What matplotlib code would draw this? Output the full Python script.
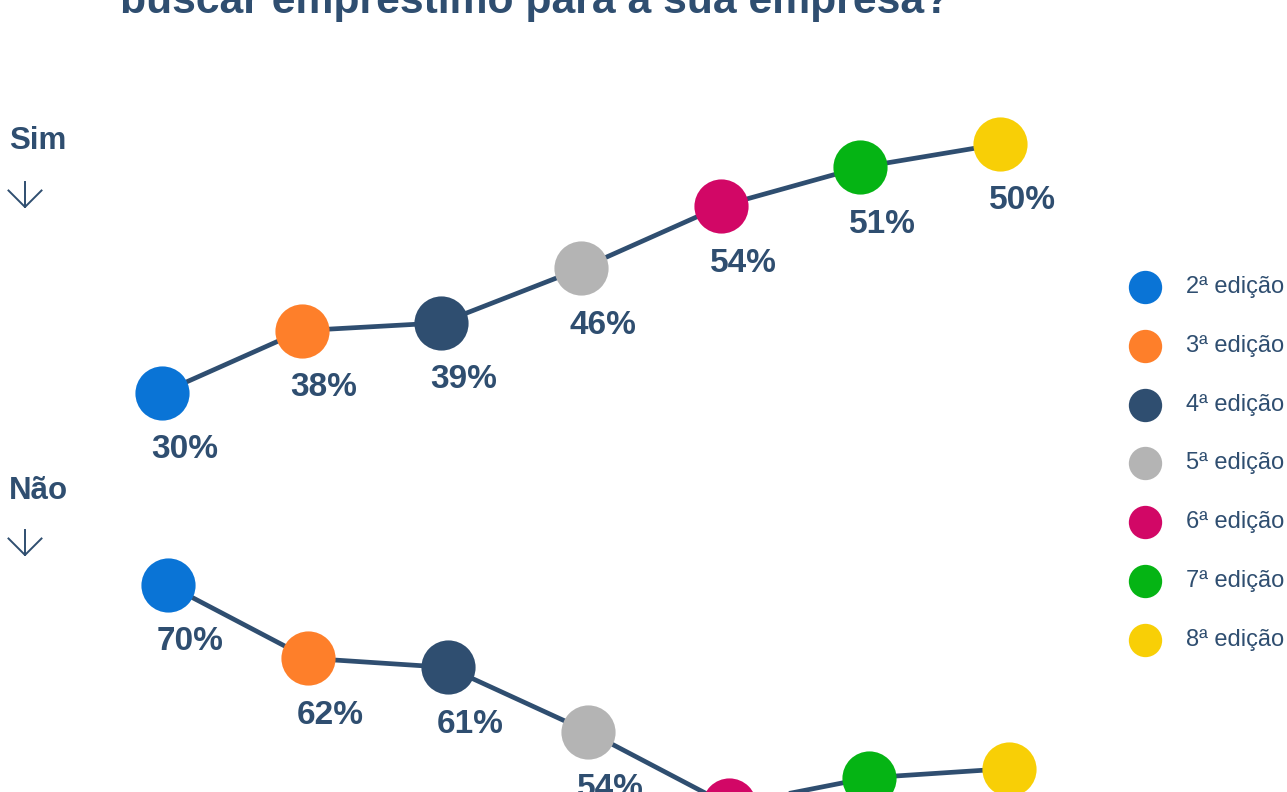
import matplotlib
matplotlib.use("Agg")
import matplotlib.pyplot as plt
from matplotlib.lines import Line2D

plt.rcParams["font.family"] = ["Liberation Sans", "DejaVu Sans"]

# dados
edicoes = ["2ª edição", "3ª edição", "4ª edição", "5ª edição",
           "6ª edição", "7ª edição", "8ª edição"]
cores = ["#0a74d6", "#fe7f2a", "#2f4e70", "#b4b4b4",
         "#d20766", "#05b414", "#f8cf06"]
sim = [30, 38, 39, 46, 54, 51, 50]
nao = [70, 62, 61, 54, 46, 49, 50]
# altura em que os pontos do "Sim" aparecem no gráfico original
# (as duas últimas não acompanham os rótulos)
sim_altura = [30, 38, 39, 46, 54, 59, 62]
titulo = "buscar empréstimo para a sua empresa?"

AZUL = "#2f4e70"
W, H = 1287, 792

fig = plt.figure(figsize=(W / 100, H / 100), dpi=100)
fig.patch.set_facecolor("white")


def px_axes(x0, y0, x1, y1):
    # caixa em pixels (origem no topo) -> coordenadas da figura
    return fig.add_axes([x0 / W, 1 - y1 / H, (x1 - x0) / W, (y1 - y0) / H])


def painel(ax, alturas, rotulos):
    x = list(range(len(alturas)))
    ax.plot(x, alturas, color=AZUL, lw=3.4, zorder=1, clip_on=False)
    for i, (h, r) in enumerate(zip(alturas, rotulos)):
        ax.plot(i, h, "o", ms=39, color=cores[i], mec="none", zorder=2, clip_on=False)
        ax.annotate(f"{r}%", (i, h), xytext=(16, -41), textcoords="offset points",
                    ha="center", va="center", fontsize=24, fontweight="bold",
                    color=AZUL, annotation_clip=False)
    ax.axis("off")


# Sim
ax1 = px_axes(100, 100, 1060, 450)
painel(ax1, sim_altura, sim)
ax1.set_xlim(-0.444, 6.429)
ax1.set_ylim(22.65, 67.66)

# Não
ax2 = px_axes(100, 540, 1060, 792)
painel(ax2, nao, nao)
ax2.set_xlim(-0.485, 6.364)
ax2.set_ylim(47.45, 74.87)

# legenda
axl = px_axes(1100, 250, 1287, 680)
for i, (nome, c) in enumerate(zip(edicoes, cores)):
    axl.plot(0, i, "o", ms=24, color=c, mec="none", clip_on=False)
    axl.text(41, i, nome, fontsize=17, color=AZUL, va="center", ha="left")
axl.set_xlim(-45, 142)
axl.set_ylim(6.68, -0.629)
axl.axis("off")

# título (cortado no topo)
fig.text(120 / W, 1 - 12.5 / H, titulo, fontsize=30.7, fontweight="bold",
         color=AZUL, ha="left", va="baseline")

# Sim / Não + setas
for nome, ytxt, yseta in [("Sim", 141, 182), ("Não", 491, 530)]:
    fig.text(9 / W, 1 - ytxt / H, nome, fontsize=22.5, fontweight="bold",
             color=AZUL, ha="left", va="center")
    xs = 25
    fig.add_artist(Line2D([xs / W, xs / W], [1 - yseta / H, 1 - (yseta + 25) / H],
                          color=AZUL, lw=1.4))
    fig.add_artist(Line2D([(xs - 16.5) / W, xs / W, (xs + 16.5) / W],
                          [1 - (yseta + 8.5) / H, 1 - (yseta + 25) / H, 1 - (yseta + 8.5) / H],
                          color=AZUL, lw=1.4))

fig.savefig("out.png", dpi=100)
